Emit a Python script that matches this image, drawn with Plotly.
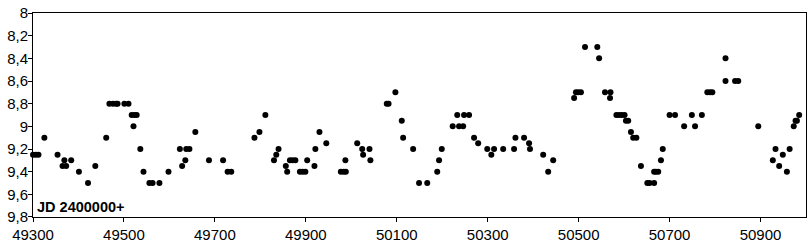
import plotly.graph_objects as go

jd = [49300, 49306, 49312, 49325, 49354, 49369, 49365, 49373, 49384, 49401, 49421, 49437,
      49461, 49468, 49476, 49483, 49486, 49501, 49510, 49517, 49523, 49528, 49521, 49536,
      49543, 49556, 49563, 49578, 49598, 49623, 49628, 49635, 49637, 49644, 49657, 49687,
      49718, 49728, 49736, 49787, 49798, 49811, 49830, 49835, 49840, 49856, 49859, 49865,
      49871, 49877, 49887, 49893, 49899, 49903, 49919, 49921, 49930, 49945, 49977, 49983,
      49988, 49987, 50013, 50024, 50026, 50040, 50042, 50078, 50082, 50097, 50111, 50114,
      50136, 50149, 50167, 50189, 50193, 50199, 50223, 50237, 50246, 50233, 50248, 50259,
      50270, 50279, 50299, 50308, 50314, 50334, 50358, 50361, 50380, 50391, 50393, 50422,
      50433, 50444, 50490, 50494, 50499, 50505, 50514, 50541, 50545, 50558, 50570, 50569,
      50583, 50589, 50595, 50601, 50604, 50609, 50615, 50620, 50627, 50637, 50651, 50656,
      50666, 50666, 50670, 50675, 50681, 50685, 50700, 50712, 50732, 50749, 50756, 50771,
      50783, 50789, 50794, 50823, 50823, 50844, 50851, 50895, 50927, 50933, 50941, 50949,
      50958, 50964, 50973, 50977, 50980, 50985]
mag = [9.25, 9.25, 9.25, 9.1, 9.25, 9.3, 9.35, 9.35, 9.3, 9.4, 9.5, 9.35,
       9.1, 8.8, 8.8, 8.8, 8.8, 8.8, 8.8, 8.9, 8.9, 8.9, 9.0, 9.2,
       9.4, 9.5, 9.5, 9.5, 9.4, 9.2, 9.35, 9.3, 9.2, 9.2, 9.05, 9.3,
       9.3, 9.4, 9.4, 9.1, 9.05, 8.9, 9.3, 9.25, 9.2, 9.35, 9.4, 9.3,
       9.3, 9.3, 9.4, 9.4, 9.4, 9.3, 9.35, 9.2, 9.05, 9.15, 9.4, 9.4,
       9.4, 9.3, 9.15, 9.2, 9.25, 9.2, 9.3, 8.8, 8.8, 8.7, 8.95, 9.1,
       9.2, 9.5, 9.5, 9.4, 9.3, 9.2, 9.0, 9.0, 9.0, 8.9, 8.9, 8.9,
       9.1, 9.15, 9.2, 9.25, 9.2, 9.2, 9.2, 9.1, 9.1, 9.15, 9.2, 9.25,
       9.4, 9.3, 8.75, 8.7, 8.7, 8.7, 8.3, 8.3, 8.4, 8.7, 8.7, 8.75,
       8.9, 8.9, 8.9, 8.9, 8.95, 8.95, 9.05, 9.1, 9.1, 9.35, 9.5, 9.5,
       9.5, 9.4, 9.4, 9.4, 9.3, 9.2, 8.9, 8.9, 9.0, 8.9, 9.0, 8.9,
       8.7, 8.7, 8.7, 8.4, 8.6, 8.6, 8.6, 9.0, 9.3, 9.2, 9.35, 9.25,
       9.4, 9.2, 9.0, 8.95, 8.95, 8.9]

x_ticks = [49300, 49500, 49700, 49900, 50100, 50300, 50500, 50700, 50900]
x_labels = [str(v) for v in x_ticks]
y_ticks = [8.0, 8.2, 8.4, 8.6, 8.8, 9.0, 9.2, 9.4, 9.6, 9.8]
y_labels = ["8", "8,2", "8,4", "8,6", "8,8", "9", "9,2", "9,4", "9,6", "9,8"]

fig = go.Figure()
fig.add_trace(go.Scatter(x=jd, y=mag, mode="markers",
                         marker=dict(color="black", size=6, line=dict(width=0)),
                         showlegend=False, cliponaxis=False))

axis_font = dict(family="Liberation Sans, Arial, sans-serif", size=15, color="black")
fig.update_layout(
    width=811, height=248,
    margin=dict(l=33, r=4, t=8, b=31),
    paper_bgcolor="white", plot_bgcolor="white",
    xaxis=dict(range=[49300, 51000], tickvals=x_ticks, ticktext=x_labels,
               ticks="outside", ticklen=4, tickcolor="black", tickwidth=1,
               ticklabeloverflow="allow",
               showline=True, linecolor="black", linewidth=1, mirror=True,
               showgrid=False, zeroline=False, tickfont=axis_font),
    yaxis=dict(range=[9.8001, 7.9999], tickvals=y_ticks, ticktext=y_labels,
               ticks="outside", ticklen=4, tickcolor="black", tickwidth=1,
               ticklabelstandoff=-3, ticklabeloverflow="allow",
               showline=True, linecolor="black", linewidth=1, mirror=True,
               showgrid=False, zeroline=False, tickfont=axis_font),
    annotations=[dict(text="<b>JD 2400000+</b>", xref="paper", yref="paper",
                      x=0.003, y=0.0, xanchor="left", yanchor="bottom",
                      showarrow=False,
                      font=dict(family="Liberation Sans, Arial, sans-serif", size=14.5, color="black"))],
)

fig.write_html("out.html")
